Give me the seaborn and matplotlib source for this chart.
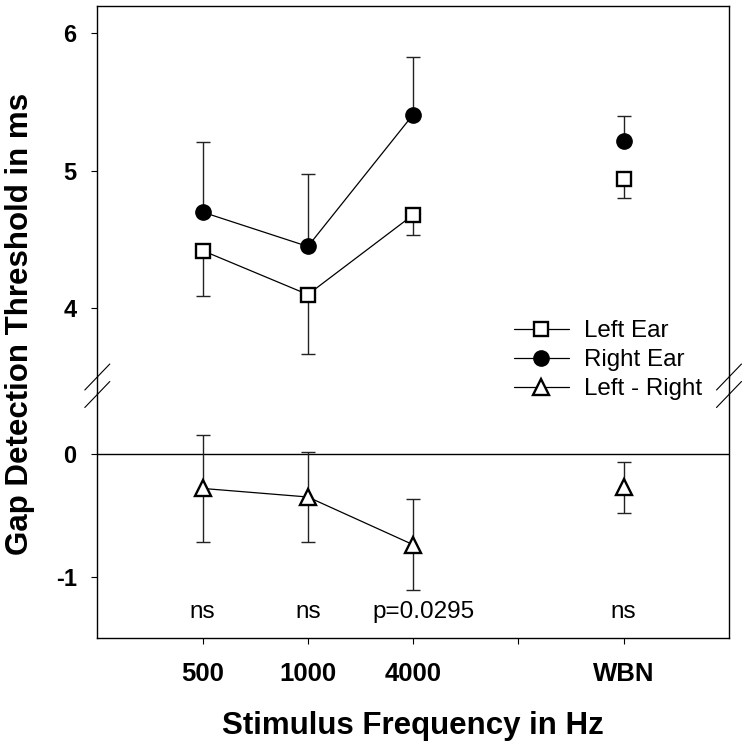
import matplotlib
matplotlib.use('Agg')
import matplotlib.pyplot as plt
from matplotlib.lines import Line2D
import seaborn as sns

# values
freq_labels = ['500', '1000', '4000', '', 'WBN']
freq_ticks = [1, 2, 3, 4, 5]
tone_x = [1, 2, 3]
wbn_x = [5]

left_ear = [4.42, 4.10, 4.68]
left_ear_err = [0.33, 0.43, 0.15]
left_ear_wbn = [4.94]
left_ear_wbn_err = [0.14]

right_ear = [4.70, 4.45, 5.41]
right_ear_err = [0.51, 0.53, 0.42]
right_ear_wbn = [5.22]
right_ear_wbn_err = [0.18]

diff = [-0.28, -0.35, -0.74]
diff_err = [0.435, 0.37, 0.37]
diff_wbn = [-0.27]
diff_wbn_err = [0.21]

sig_labels = ['ns', 'ns', 'p=0.0295', 'ns']
sig_x = [1, 2, 3.1, 5]

sns.set_theme(style='ticks')
plt.rcParams['font.family'] = ['Liberation Sans', 'DejaVu Sans']
plt.rcParams['axes.edgecolor'] = 'black'
plt.rcParams['text.color'] = 'black'
plt.rcParams['xtick.color'] = 'black'
plt.rcParams['ytick.color'] = 'black'

W = 749.0
def fx(px):
    return px / W
def fy(py):
    return 1 - py / W

ax_left, ax_right = 97.3, 729.0
fig = plt.figure(figsize=(7.49, 7.49), dpi=100)
ax_top = fig.add_axes([fx(ax_left), fy(377), fx(ax_right - ax_left), (377 - 6) / W])
ax_bot = fig.add_axes([fx(ax_left), fy(637.7), fx(ax_right - ax_left), (637.7 - 393) / W])

styles = {
    'left': dict(marker='s', markersize=9.8, markerfacecolor='white', markeredgecolor='black', markeredgewidth=1.7),
    'right': dict(marker='o', markersize=11, markerfacecolor='black', markeredgecolor='black', markeredgewidth=1),
    'diff': dict(marker='^', markersize=11.5, markerfacecolor='white', markeredgecolor='black', markeredgewidth=1.7),
}

def draw(ax, x, y, err, xw, yw, errw, style, side):
    xs = x + xw
    ys = y + yw
    es = err + errw
    zeros = [0] * len(es)
    if side == 'down':
        yerr = [es, zeros]
    elif side == 'up':
        yerr = [zeros, es]
    else:
        yerr = [es, es]
    ax.errorbar(xs, ys, yerr=yerr, fmt='none', ecolor='#222222', elinewidth=1,
                capsize=5, capthick=1, zorder=2)
    sns.lineplot(x=x, y=y, ax=ax, color='black', linewidth=0.9, zorder=3,
                 legend=False, **styles[style])
    sns.lineplot(x=xw, y=yw, ax=ax, color='black', linewidth=0, zorder=3,
                 legend=False, **styles[style])

draw(ax_top, tone_x, left_ear, left_ear_err, wbn_x, left_ear_wbn, left_ear_wbn_err, 'left', 'down')
draw(ax_top, tone_x, right_ear, right_ear_err, wbn_x, right_ear_wbn, right_ear_wbn_err, 'right', 'up')
draw(ax_bot, tone_x, diff, diff_err, wbn_x, diff_wbn, diff_wbn_err, 'diff', 'both')

ax_bot.axhline(0, color='black', linewidth=1, zorder=1)

for lab, x in zip(sig_labels, sig_x):
    ax_bot.text(x, -1.335, lab, ha='center', va='baseline', fontsize=17.5)

# axes limits and ticks
for ax in (ax_top, ax_bot):
    ax.set_xlim(0, 6)
    ax.set_xlabel('')
    ax.set_ylabel('')
    for s in ax.spines.values():
        s.set_linewidth(1.0)
        s.set_color('black')
    ax.tick_params(axis='y', direction='out', length=4.3, width=0.8, pad=10.5,
                   labelsize=17)

ax_top.set_ylim(3.5, 6.2)
ax_top.set_yticks([4, 5, 6])
ax_top.set_yticklabels(['4', '5', '6'], fontweight='bold', fontsize=17)
ax_top.spines['bottom'].set_visible(False)
ax_top.set_xticks([])

ax_bot.set_ylim(-1.5, 0.5)
ax_bot.set_yticks([-1, 0])
ax_bot.set_yticklabels(['-1', '0'], fontweight='bold', fontsize=17)
ax_bot.spines['top'].set_visible(False)
ax_bot.set_xticks(freq_ticks)
ax_bot.set_xticklabels(freq_labels, fontweight='bold', fontsize=18.5)
ax_bot.tick_params(axis='x', direction='out', length=4.3, width=0.8, pad=13.5)

# continuous frame across the break and the break marks
for xp in (ax_left, ax_right):
    fig.add_artist(Line2D([fx(xp), fx(xp)], [fy(377), fy(393)], color='black', linewidth=1.0))
    for yc in (377, 394.5):
        fig.add_artist(Line2D([fx(xp - 12.5), fx(xp + 12.5)], [fy(yc + 13), fy(yc - 13)],
                              color='black', linewidth=0.8))

# legend
handles = [Line2D([], [], color='black', linewidth=0.9, **styles[k]) for k in ('left', 'right', 'diff')]
fig.legend(handles, ['Left Ear', 'Right Ear', 'Left - Right'], loc='upper left',
           bbox_to_anchor=(fx(514), fy(320)), frameon=False, fontsize=17.4,
           borderpad=0, borderaxespad=0, handlelength=2.27, handletextpad=0.62,
           labelspacing=0.3)

fig.text(fx(413), fy(734), 'Stimulus Frequency in Hz', ha='center', va='baseline',
         fontsize=22.5, fontweight='bold')
fig.text(fx(20), fy(324), 'Gap Detection Threshold in ms', ha='center', va='center',
         rotation=90, fontsize=22.5, fontweight='bold')

fig.savefig('out.png', dpi=100)
